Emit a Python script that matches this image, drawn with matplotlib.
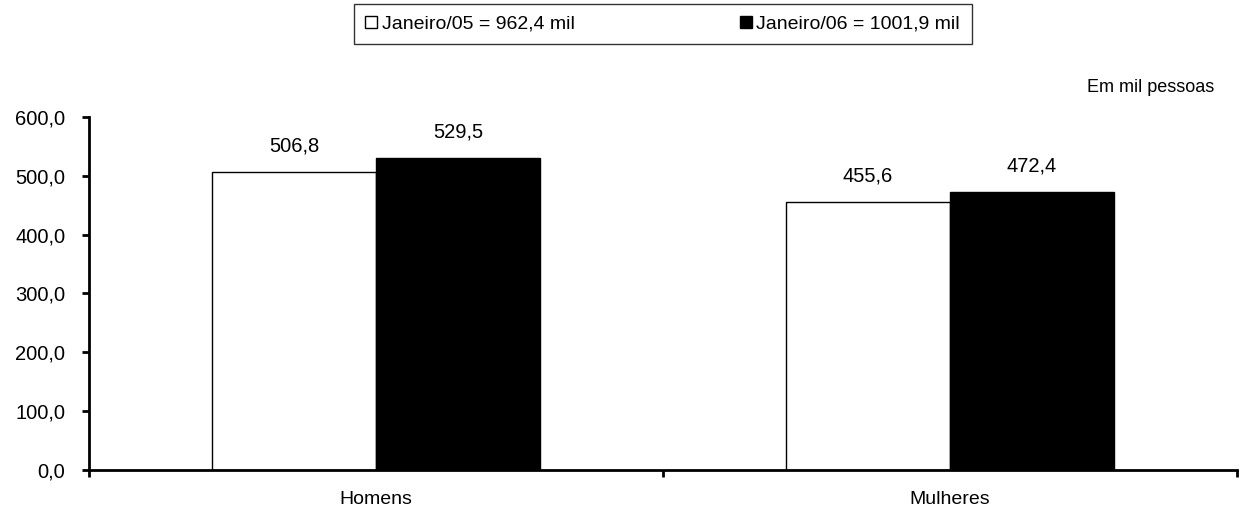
import matplotlib.pyplot as plt
import numpy as np
from matplotlib.patches import Patch

plt.rcParams['font.family'] = ['Liberation Sans', 'DejaVu Sans']

categories = ['Homens', 'Mulheres']
jan05 = [506.8, 455.6]
jan06 = [529.5, 472.4]
labels = ['Janeiro/05 = 962,4 mil', 'Janeiro/06 = 1001,9 mil']
yticks = [0, 100, 200, 300, 400, 500, 600]


def fmt(v):
    return f"{v:.1f}".replace('.', ',')


fig = plt.figure(figsize=(12.42, 5.13), dpi=100)
ax = fig.add_axes([0.0717, 0.0838, 0.9243, 0.6882])

x = np.arange(len(categories))
w = 0.286
ax.bar(x - w / 2, jan05, w, color='white', edgecolor='black', linewidth=1)
ax.bar(x + w / 2, jan06, w, color='black', edgecolor='black', linewidth=1)

for xi, v in zip(x - w / 2, jan05):
    ax.annotate(fmt(v), (xi, v), xytext=(0, 12), textcoords='offset points',
                ha='center', va='bottom', fontsize=14.5)
for xi, v in zip(x + w / 2, jan06):
    ax.annotate(fmt(v), (xi, v), xytext=(0, 12), textcoords='offset points',
                ha='center', va='bottom', fontsize=14.5)

ax.set_xlim(-0.5, 1.5)
ax.set_ylim(0, 600)
ax.set_yticks(yticks)
ax.set_yticklabels([fmt(v) for v in yticks], fontsize=14.5)
ax.set_xticks(x)
ax.set_xticklabels(categories, fontsize=14)
ax.set_xticks([-0.5, 0.5, 1.5], minor=True)
ax.tick_params(axis='x', which='major', length=0, pad=15)
ax.tick_params(axis='x', which='minor', length=5, width=2, direction='out')
ax.tick_params(axis='y', length=5, width=2, direction='out', pad=12)

for s in ['top', 'right']:
    ax.spines[s].set_visible(False)
for s in ['left', 'bottom']:
    ax.spines[s].set_linewidth(2)

handles = [Patch(facecolor='white', edgecolor='black'),
           Patch(facecolor='black', edgecolor='black')]
leg = fig.legend(handles, labels, loc='center', bbox_to_anchor=(0.5335, 0.953),
                 ncol=2, fontsize=14, frameon=True, fancybox=False,
                 handlelength=0.6, handleheight=0.6, handletextpad=0.25,
                 columnspacing=8.5, borderpad=0.6, borderaxespad=0)
leg.get_frame().set_edgecolor('black')
leg.get_frame().set_linewidth(1)

fig.text(0.978, 0.83, 'Em mil pessoas', ha='right', va='center', fontsize=13)

fig.savefig('out.png', dpi=100)
